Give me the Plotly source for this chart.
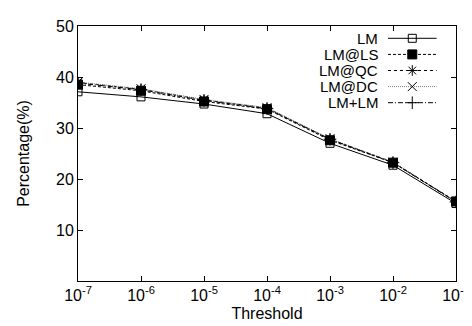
import plotly.graph_objects as go

thresholds = [1e-7, 1e-6, 1e-5, 1e-4, 1e-3, 1e-2, 1e-1]
tick_labels = ["10<sup>-7</sup>", "10<sup>-6</sup>", "10<sup>-5</sup>", "10<sup>-4</sup>",
               "10<sup>-3</sup>", "10<sup>-2</sup>", "10<sup>-1</sup>"]
lm = [37.1, 36.1, 34.7, 32.8, 27.0, 22.7, 15.2]
lm_ls = [38.5, 37.3, 35.2, 33.7, 27.6, 23.2, 15.6]
lm_qc = [38.9, 37.6, 35.5, 33.9, 27.8, 23.3, 15.6]
lm_dc = [39.0, 37.7, 35.6, 34.0, 27.9, 23.3, 15.5]
lm_lm = [38.8, 37.5, 35.4, 33.8, 27.8, 23.2, 15.5]

series = [
    ("LM", lm, "solid", "square-open", "black", 8),
    ("LM@QC", lm_qc, "dot", "asterisk-open", "black", 9),
    ("LM@DC", lm_dc, "1px,1px", "x-thin-open", "#777777", 9),
    ("LM+LM", lm_lm, "5px,2px,1px,2px", "cross-thin-open", "black", 9),
    ("LM@LS", lm_ls, "3px,2px", "square", "black", 9),
]
legend_order = ["LM", "LM@LS", "LM@QC", "LM@DC", "LM+LM"]

FONT = "Liberation Sans, Arial, sans-serif"

fig = go.Figure()
for name, vals, dash, sym, col, size in series:
    fig.add_trace(go.Scatter(
        x=thresholds, y=vals, mode="lines+markers", name=name,
        line=dict(color=col, width=1, dash=dash),
        marker=dict(symbol=sym, size=size, color="black",
                    line=dict(color="black", width=1)),
        showlegend=False,
    ))

# custom legend (text right-aligned, sample to the right) in pixel-like overlay axes
lookup = {s[0]: s for s in series}
leg_y0, leg_dy = 22.7, 16.6
for i, name in enumerate(legend_order):
    _, _, dash, sym, col, size = lookup[name]
    yy = leg_y0 + i * leg_dy
    fig.add_trace(go.Scatter(
        x=[389, 439], y=[yy, yy], mode="lines", xaxis="x2", yaxis="y2",
        line=dict(color=col, width=1, dash=dash), showlegend=False, hoverinfo="skip"))
    fig.add_trace(go.Scatter(
        x=[414], y=[yy], mode="markers", xaxis="x2", yaxis="y2",
        marker=dict(symbol=sym, size=size, color="black", line=dict(color="black", width=1)),
        showlegend=False, hoverinfo="skip"))
    fig.add_annotation(x=380, y=yy, xref="x2", yref="y2", text=name, showarrow=False,
                       xanchor="right", yanchor="middle", borderpad=0,
                       font=dict(size=15, color="black", family=FONT))

axis_common = dict(showline=True, linecolor="black", linewidth=1, mirror="allticks",
                   ticks="inside", ticklen=5, tickcolor="black", showgrid=False,
                   zeroline=False, tickfont=dict(size=16, color="black", family=FONT),
                   ticklabeloverflow="allow")

fig.update_layout(
    width=472, height=326,
    margin=dict(l=70, r=13, t=10, b=53),
    paper_bgcolor="white", plot_bgcolor="white",
    font=dict(family=FONT, size=16, color="black"),
    xaxis=dict(type="log", range=[-7, -1], tickvals=thresholds, ticktext=tick_labels,
               title=dict(text="Threshold", font=dict(size=16, family=FONT), standoff=4),
               **axis_common),
    yaxis=dict(range=[0, 50], tickvals=[10, 20, 30, 40, 50],
               title=dict(text="Percentage(%)", font=dict(size=16, family=FONT), standoff=22),
               **axis_common),
    xaxis2=dict(overlaying="x", range=[70, 459], visible=False, domain=[0, 1]),
    yaxis2=dict(overlaying="y", range=[273, 10], visible=False, domain=[0, 1]),
)

fig.write_html("out.html")
